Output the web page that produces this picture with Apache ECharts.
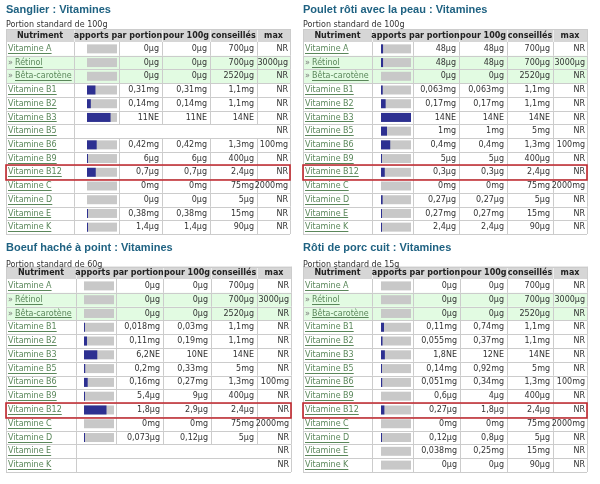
<!DOCTYPE html>
<html><head><meta charset="utf-8">
<script src="https://cdn.jsdelivr.net/npm/echarts@6/dist/echarts.min.js"></script>
<style>html,body{margin:0;padding:0;background:#fff}#c{width:600px;height:484px}</style>
</head><body><div id="c"></div>
<script>
// ---------- data ----------
const nutrients = ['Vitamine A','Rétinol','Bêta-carotène','Vitamine B1','Vitamine B2','Vitamine B3','Vitamine B5','Vitamine B6','Vitamine B9','Vitamine B12','Vitamine C','Vitamine D','Vitamine E','Vitamine K'];
const subRows = [false,true,true,false,false,false,false,false,false,false,false,false,false,false];
const units = ['µg','µg','µg','mg','mg','NE','mg','mg','µg','µg','mg','µg','mg','µg'];
const recommended = [700,700,2520,1.1,1.1,14,5,1.3,400,2.4,75,5,15,90];
const maxValues = ['NR','3000µg','NR','NR','NR','NR','NR','100mg','NR','NR','2000mg','NR','NR','NR'];
const highlightRow = 'Vitamine B12';
const headers = ['Nutriment','apports par portion','pour 100g','conseillés','max'];

const titles = ['Sanglier : Vitamines','Poulet rôti avec la peau : Vitamines','Boeuf haché à point : Vitamines','Rôti de porc cuit : Vitamines'];
const portionLabels = ['Portion standard de 100g','Portion standard de 100g','Portion standard de 60g','Portion standard de 15g'];

const sanglierPortion = [0,0,0,0.31,0.14,11,null,0.42,6,0.7,0,0,0.38,1.4];
const sanglierPer100  = [0,0,0,0.31,0.14,11,null,0.42,6,0.7,0,0,0.38,1.4];
const pouletPortion   = [48,48,0,0.063,0.17,14,1,0.4,5,0.3,0,0.27,0.27,2.4];
const pouletPer100    = [48,48,0,0.063,0.17,14,1,0.4,5,0.3,0,0.27,0.27,2.4];
const boeufPortion    = [0,0,0,0.018,0.11,6.2,0.2,0.16,5.4,1.8,0,0.073,null,null];
const boeufPer100     = [0,0,0,0.03,0.19,10,0.33,0.27,9,2.9,0,0.12,null,null];
const porcPortion     = [0,0,0,0.11,0.055,1.8,0.14,0.051,0.6,0.27,0,0.12,0.038,0];
const porcPer100      = [0,0,0,0.74,0.37,12,0.92,0.34,4,1.8,0,0.8,0.25,0];

const tables = [
  {portion: sanglierPortion, per100: sanglierPer100},
  {portion: pouletPortion, per100: pouletPer100},
  {portion: boeufPortion, per100: boeufPer100},
  {portion: porcPortion, per100: porcPer100}
];

// ---------- layout & style ----------
const layouts = [
  {cols:[6,74,119,162,210,257,290], titleY:9.5, portionY:24.5, headTop:29, top:42, height:192},
  {cols:[303,372,413,459,507,553,587], titleY:9.5, portionY:24.5, headTop:29, top:42, height:192},
  {cols:[6,76,116,163,211,257,291], titleY:248, portionY:264.5, headTop:266.5, top:279, height:193},
  {cols:[303,372,413,460,507,553,587], titleY:248, portionY:264.5, headTop:266.5, top:279, height:193}
];
const FONT = '"DejaVu Sans", Verdana, sans-serif';
const BODY = '8px ' + FONT;
const BOLD = 'bold 8px ' + FONT;
const TITLEFONT = 'bold 11px "Liberation Sans", Arial, sans-serif';
const C = {title:'#1f6282', link:'#5a875a', text:'#333333', headBg:'#d6d6d6', headLine:'#eeeeee',
  border:'#cccccc', green:'#e2fbe2', gray:'#c8c8c8', blue:'#2d3091', red:'#c0262c'};

const mctx = document.createElement('canvas').getContext('2d');
function textW(s, f){ mctx.font = f; return mctx.measureText(s).width; }
function fmt(v, u){ return String(v).replace('.', ',') + u; }
function px(v){ return Math.round(v) + 0.5; }

function txt(s, x, y, font, fill, align){
  return {type:'text', z2:5, style:{text:s, x:x, y:y, font:font, fill:fill, align:align||'left', verticalAlign:'middle'}};
}
function line(x1,y1,x2,y2,color,w,z2){
  return {type:'line', z2:z2||2, shape:{x1:x1,y1:y1,x2:x2,y2:y2}, style:{stroke:color, lineWidth:w||1}};
}

function makeRender(t){
  const L = layouts[t], tb = tables[t], cols = L.cols;
  return function(params, api){
    const i = params.dataIndex;
    const yc = api.coord([0, i])[1];
    const h = api.size([0, 1])[1];
    const y0 = yc - h/2, y1 = yc + h/2;
    const ch = [];
    const hasData = tb.portion[i] != null;
    ch.push({type:'rect', z2:0, shape:{x:cols[0], y:y0, width:cols[6]-cols[0], height:h},
      style:{fill: subRows[i] ? C.green : '#ffffff'}});
    ch.push(line(cols[0], px(y1), cols[6], px(y1), C.border));
    const vx = hasData ? cols : [cols[0], cols[1], cols[6]];
    vx.forEach(x => ch.push(line(px(x), y0, px(x), y1, C.border)));
    // name
    let nx = cols[0] + 2;
    if (subRows[i]) { ch.push(txt('»', nx, yc, BODY, '#777777')); nx = cols[0] + 9; }
    ch.push(txt(nutrients[i], nx, yc, BODY, C.link));
    const w = textW(nutrients[i], BODY);
    ch.push(line(nx, px(yc + 4), nx + w, px(yc + 4), C.link, 1, 5));
    if (hasData) {
      ch.push(txt(fmt(tb.portion[i], units[i]), cols[3]-3, yc, BODY, C.text, 'right'));
      ch.push(txt(fmt(tb.per100[i], units[i]), cols[4]-3, yc, BODY, C.text, 'right'));
      ch.push(txt(fmt(recommended[i], units[i]), cols[5]-3, yc, BODY, C.text, 'right'));
    }
    ch.push(txt(maxValues[i], cols[6]-2, yc, BODY, C.text, 'right'));
    if (nutrients[i] === highlightRow) {
      ch.push({type:'rect', z2:10, shape:{x:cols[0], y:Math.round(y0), width:cols[6]-cols[0], height:Math.round(y1)-Math.round(y0)+1},
        style:{fill:'none', stroke:C.red, lineWidth:1.6}});
    }
    if (i === 0) {
      ch.push(txt(titles[t], cols[0], L.titleY, TITLEFONT, C.title));
      ch.push(txt(portionLabels[t], cols[0], L.portionY, BODY, C.text));
      const ht = L.headTop, hb = L.top;
      ch.push({type:'rect', z2:1, shape:{x:cols[0], y:ht, width:cols[6]-cols[0], height:hb-ht}, style:{fill:C.headBg}});
      [cols[1], cols[3], cols[4], cols[5]].forEach(x => ch.push(line(px(x), ht+1, px(x), hb, C.headLine, 1, 2)));
      ch.push(line(cols[0], px(ht), cols[6], px(ht), C.border));
      ch.push(line(px(cols[0]), ht, px(cols[0]), hb, C.border));
      ch.push(line(px(cols[6]), ht, px(cols[6]), hb, C.border));
      const hy = (ht + hb) / 2;
      const hc = [(cols[0]+cols[1])/2, (cols[1]+cols[3])/2, (cols[3]+cols[4])/2, (cols[4]+cols[5])/2, (cols[5]+cols[6])/2];
      headers.forEach((s, k) => ch.push(txt(s, hc[k], hy, BOLD, '#222222', 'center')));
    }
    return {type:'group', children:ch};
  };
}

const grid = [], xAxis = [], yAxis = [], series = [];
tables.forEach((tb, t) => {
  const L = layouts[t];
  grid.push({left: L.cols[2]-2-30, width:30, top:L.top, height:L.height, containLabel:false});
  xAxis.push({type:'value', gridIndex:t, min:0, max:100, show:false});
  yAxis.push({type:'category', gridIndex:t, data:nutrients, inverse:true, show:false});
  series.push({type:'custom', xAxisIndex:t, yAxisIndex:t, z:1, silent:true,
    data: nutrients.map((n,i)=>[0,i]), renderItem: makeRender(t), clip:false});
  series.push({type:'bar', xAxisIndex:t, yAxisIndex:t, z:2, silent:true, barWidth:9, barGap:'-100%',
    itemStyle:{color:C.gray}, data: tb.portion.map(v => v == null ? '-' : 100)});
  series.push({type:'bar', xAxisIndex:t, yAxisIndex:t, z:3, silent:true, barWidth:9, barGap:'-100%', barMinHeight:1,
    itemStyle:{color:C.blue},
    data: tb.portion.map((v,i) => {
      if (v == null) return '-';
      const pct = Math.min(100, v / recommended[i] * 100);
      return pct >= 1 ? pct : '-';
    })});
});

const chart = echarts.init(document.getElementById('c'), null, {renderer:'canvas'});
chart.setOption({animation:false, grid, xAxis, yAxis, series});
</script></body></html>
